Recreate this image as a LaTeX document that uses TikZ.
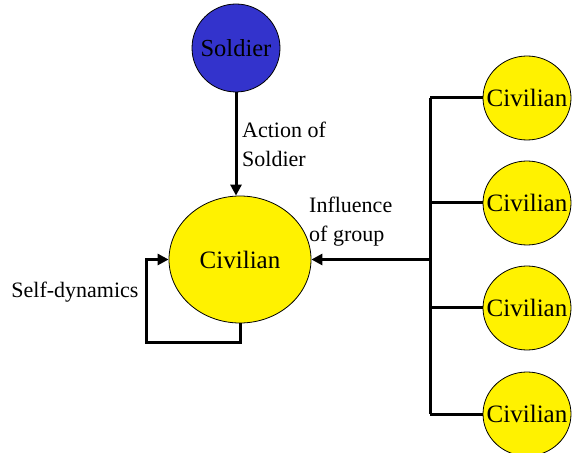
\documentclass[tikz,border=0pt]{standalone}
\usepackage{fontspec}
\setmainfont{Liberation Serif}
\usepackage{xcolor}
\usetikzlibrary{shapes.geometric,arrows.meta,calc}
\definecolor{soldierblue}{RGB}{51,51,204}
\tikzset{
  S/.style={draw, circle, fill=soldierblue, minimum size=88pt,
            inner sep=0pt, line width=0.8pt,
            font=\fontsize{24.5}{26}\selectfont},
  C/.style={draw, ellipse, fill=yellow, minimum width=88pt,
            minimum height=84pt, inner xsep=-14pt, inner ysep=0pt,
            line width=0.8pt, font=\fontsize{25}{27}\selectfont},
  L/.style={align=left, inner sep=0pt,
            font=\fontsize{22}{29}\selectfont},
  SA/.style={-{Triangle[length=11pt,width=11pt]}, line width=3pt},
  LN/.style={line width=3pt}
}
\begin{document}
\begin{tikzpicture}[x=1pt, y=1pt]

\useasboundingbox (0,0) rectangle (572,452);
\clip (0,0) rectangle (572,452);

% ---- Soldier and the civilian it acts on ----
\node[S] (SOL) at (236,404) {Soldier};
\node[C, minimum width=142pt, minimum height=127pt] (CIV) at (240,192.5) {Civilian};

% ---- Group of civilians ----
\node[C] (C1) at (527,354) {Civilian};
\node[C] (C2) at (527,249) {Civilian};
\node[C] (C3) at (527,144) {Civilian};
\node[C] (C4) at (527,38)  {Civilian};

% ---- Helper points ----
\coordinate (BUS)  at (430,192.5);
\coordinate (LOOP) at (146,109);

% ---- Labels ----
\node[L, anchor=west] (ACT) at (242,308) {Action of\\Soldier};
\node[L, anchor=west] (INF) at (309,230) {Influence\\of group};
\node[L] (SELF) at (75,160) {Self-dynamics};

% ---- Arrows ----
\draw[SA] (SOL.south) -- (SOL.south |- CIV.north);
\draw[SA] (CIV.south) |- (LOOP) |- (CIV.west);
\draw[SA] (BUS) -- (CIV.east);

% ---- Group bus ----
\draw[LN] (C1.west -| BUS) -- (C4.west -| BUS);
\foreach \i in {1,...,4}
  \draw[LN] (C\i.west -| BUS) -- (C\i.west);

\end{tikzpicture}
\end{document}
